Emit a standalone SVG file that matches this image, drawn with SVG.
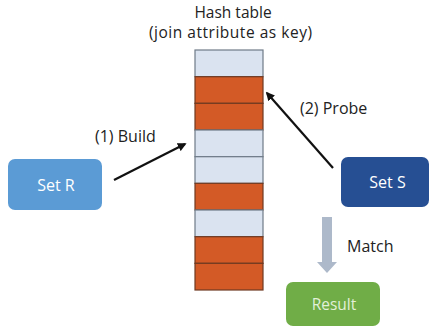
<svg xmlns="http://www.w3.org/2000/svg" width="430" height="333" viewBox="0 0 430 333">
<defs>
<style>
text{font-family:"Open Sans","Liberation Sans",sans-serif;font-size:16px;fill:#222}
.ttl{font-size:15.5px}
.lt{fill:#dae3f0;stroke:#6f7b88;stroke-width:1.2}
.or{fill:#d35a26;stroke:#6f3a22;stroke-width:1.2}
.ctr{text-anchor:middle}
.wt{fill:#ffffff}
.conn{stroke:#111;stroke-width:2.2;fill:none;marker-end:url(#ah)}
</style>
<marker id="ah" viewBox="0 0 10 10" refX="8" refY="5" markerWidth="4" markerHeight="4" orient="auto" markerUnits="strokeWidth">
<path d="M0,0 L10,5 L0,10 Z" fill="#111"/>
</marker>
</defs>
<rect width="430" height="333" fill="#ffffff"/>
<g id="title">
<text class="ctr ttl" x="233" y="17.5">Hash table</text>
<text class="ctr ttl" x="230.5" y="37.5" textLength="163">(join attribute as key)</text>
</g>
<g id="hash-table">
<rect class="lt" x="195" y="50" width="68" height="26.7"/>
<rect class="or" x="195" y="76.7" width="68" height="26.7"/>
<rect class="or" x="195" y="103.3" width="68" height="26.7"/>
<rect class="lt" x="195" y="130" width="68" height="26.7"/>
<rect class="lt" x="195" y="156.7" width="68" height="26.7"/>
<rect class="or" x="195" y="183.3" width="68" height="26.7"/>
<rect class="lt" x="195" y="210" width="68" height="26.7"/>
<rect class="or" x="195" y="236.7" width="68" height="26.7"/>
<rect class="or" x="195" y="263.3" width="68" height="26.7"/>
</g>
<g id="set-r">
<rect x="8" y="159" width="94" height="51" rx="7" fill="#5b9bd5"/>
<text class="ctr wt" x="56" y="190.5">Set R</text>
</g>
<g id="set-s">
<rect x="341" y="157" width="88" height="50" rx="7" fill="#264f93"/>
<text class="ctr wt" x="387.5" y="188">Set S</text>
</g>
<g id="result">
<rect x="286" y="282" width="94" height="44" rx="7" fill="#70ad47"/>
<text class="ctr" x="334" y="309.5" style="fill:#e2f0d9;font-size:15.5px">Result</text>
</g>
<g id="connectors">
<line class="conn" x1="114" y1="180" x2="185" y2="144"/>
<line class="conn" x1="333" y1="168" x2="267" y2="93"/>
<path d="M322,217 L332,217 L332,262 L337,262 L327,273 L317,262 L322,262 Z" fill="#adb9ca"/>
</g>
<g id="labels">
<text x="95" y="142">(1) Build</text>
<text x="300" y="114">(2) Probe</text>
<text x="347" y="252">Match</text>
</g>
</svg>
